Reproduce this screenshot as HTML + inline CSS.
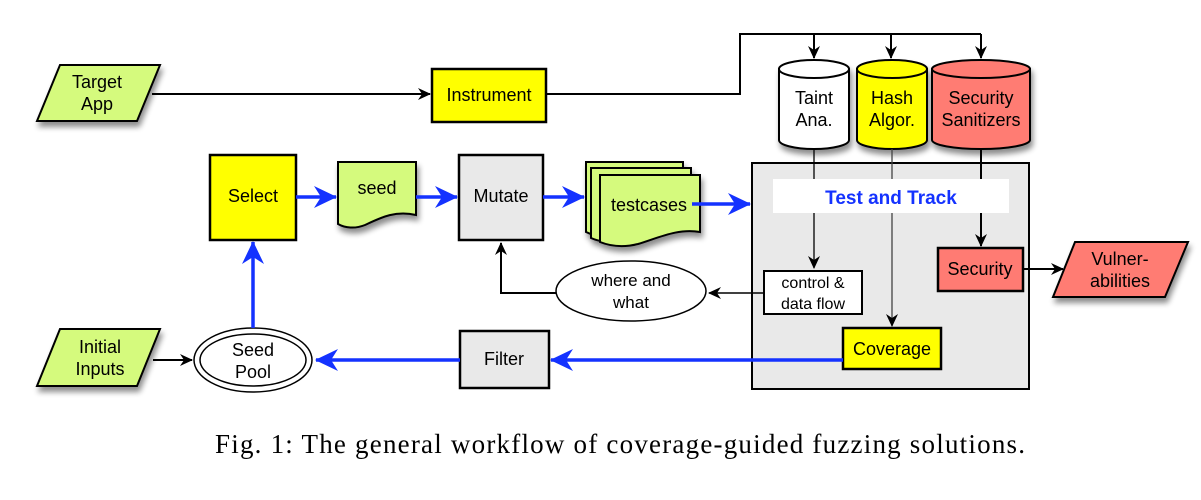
<!DOCTYPE html>
<html><head><meta charset="utf-8"><style>
html,body{margin:0;padding:0;background:#fff;}
svg{display:block;}
text{font-family:"Liberation Sans",Arial,sans-serif;font-size:17px;fill:#000;}
</style></head><body>
<svg width="1201" height="500" viewBox="0 0 1201 500" xmlns="http://www.w3.org/2000/svg">
<defs>
<filter id="sh" x="-20%" y="-20%" width="150%" height="160%">
<feGaussianBlur in="SourceAlpha" stdDeviation="3"/>
<feOffset dx="2" dy="5" result="b"/>
<feComponentTransfer><feFuncA type="linear" slope="0.45"/></feComponentTransfer>
<feMerge><feMergeNode/><feMergeNode in="SourceGraphic"/></feMerge>
</filter>
<marker id="ab" markerWidth="14" markerHeight="12" refX="12" refY="6" orient="auto" markerUnits="userSpaceOnUse">
<path d="M0,0 L13,6 L0,12 L4,6 Z" fill="#000"/></marker>
<marker id="abl" markerWidth="24" markerHeight="22" refX="22" refY="11" orient="auto" markerUnits="userSpaceOnUse">
<path d="M0,0 L23,11 L0,22 L7,11 Z" fill="#1432ff"/></marker>
</defs>

<polygon points="60,65 160,65 137,121 37,121" fill="#d5fa7d" stroke="#000" stroke-width="2" filter="url(#sh)"/>
<text x="97" y="88" text-anchor="middle" style="font-size:18px">Target</text>
<text x="97" y="110" text-anchor="middle" style="font-size:18px">App</text>
<line x1="152" y1="94" x2="430" y2="94" stroke="#000" stroke-width="2" marker-end="url(#ab)"/>

<rect x="432" y="69" width="114" height="53" fill="#ffff00" stroke="#000" stroke-width="2.5"/>
<text x="489" y="101" text-anchor="middle" style="font-size:18px">Instrument</text>
<polyline points="546,94 740,94 740,34 981,34" fill="none" stroke="#000" stroke-width="2"/>
<line x1="814" y1="34" x2="814" y2="58" stroke="#000" stroke-width="2" marker-end="url(#ab)"/>
<line x1="891" y1="34" x2="891" y2="58" stroke="#000" stroke-width="2" marker-end="url(#ab)"/>
<line x1="981" y1="34" x2="981" y2="58" stroke="#000" stroke-width="2" marker-end="url(#ab)"/>

<g filter="url(#sh)" stroke="#000" stroke-width="2">
<path d="M779,69 L779,140 A35,9 0 0 0 849,140 L849,69 Z" fill="#fff"/>
<ellipse cx="814" cy="69" rx="35" ry="9" fill="#fff"/>
<path d="M857,69 L857,140 A35,9 0 0 0 927,140 L927,69 Z" fill="#ffff00"/>
<ellipse cx="892" cy="69" rx="35" ry="9" fill="#ffff00"/>
<path d="M932,69 L932,140 A49,9 0 0 0 1030,140 L1030,69 Z" fill="#ff7b73"/>
<ellipse cx="981" cy="69" rx="49" ry="9" fill="#ff7b73"/>
</g>
<text x="814" y="104" text-anchor="middle" style="font-size:18px">Taint</text>
<text x="814" y="126" text-anchor="middle" style="font-size:18px">Ana.</text>
<text x="892" y="104" text-anchor="middle" style="font-size:18px">Hash</text>
<text x="892" y="126" text-anchor="middle" style="font-size:18px">Algor.</text>
<text x="981" y="104" text-anchor="middle" style="font-size:18px">Security</text>
<text x="981" y="126" text-anchor="middle" style="font-size:18px">Sanitizers</text>

<rect x="752" y="163" width="277" height="226" fill="#e9e9e9" stroke="#000" stroke-width="2"/>
<line x1="814" y1="149" x2="814" y2="268" stroke="#000" stroke-width="1.3" marker-end="url(#ab)"/>
<line x1="892" y1="149" x2="892" y2="326" stroke="#444" stroke-width="1.3" marker-end="url(#ab)"/>
<line x1="981" y1="149" x2="981" y2="246" stroke="#000" stroke-width="2" marker-end="url(#ab)"/>
<rect x="773" y="179" width="236" height="34" fill="#fff"/>
<text x="891" y="204" text-anchor="middle" style="fill:#1432ff;font-weight:bold;font-size:19px">Test and Track</text>

<rect x="764" y="271" width="98" height="43" fill="#fff" stroke="#000" stroke-width="2"/>
<text x="813" y="288" text-anchor="middle" style="font-size:16px">control &amp;</text>
<text x="813" y="309" text-anchor="middle" style="font-size:16px">data flow</text>

<rect x="938" y="248" width="85" height="43" fill="#ff7b73" stroke="#000" stroke-width="2.5"/>
<text x="980" y="275" text-anchor="middle" style="font-size:18px">Security</text>
<line x1="1023" y1="269" x2="1063" y2="269" stroke="#000" stroke-width="2" marker-end="url(#ab)"/>
<polygon points="1075,242 1188,242 1165,297 1053,297" fill="#ff7b73" stroke="#000" stroke-width="2" filter="url(#sh)"/>
<text x="1120" y="265" text-anchor="middle" style="font-size:18px">Vulner-</text>
<text x="1120" y="287" text-anchor="middle" style="font-size:18px">abilities</text>

<rect x="843" y="328" width="98" height="41" fill="#ffff00" stroke="#000" stroke-width="2.5"/>
<text x="892" y="355" text-anchor="middle" style="font-size:18px">Coverage</text>

<line x1="843" y1="360" x2="551" y2="360" stroke="#1432ff" stroke-width="3.5" marker-end="url(#abl)"/>
<rect x="460" y="331" width="89" height="57" fill="#e9e9e9" stroke="#000" stroke-width="2.5"/>
<text x="504" y="365" text-anchor="middle" style="font-size:18px">Filter</text>
<line x1="460" y1="360" x2="316" y2="360" stroke="#1432ff" stroke-width="3.5" marker-end="url(#abl)"/>

<ellipse cx="253" cy="360" rx="59" ry="32" fill="#fff" stroke="#000" stroke-width="1.5"/>
<ellipse cx="253" cy="360" rx="53" ry="26" fill="none" stroke="#000" stroke-width="1.5"/>
<text x="253" y="356" text-anchor="middle" style="font-size:18px">Seed</text>
<text x="253" y="378" text-anchor="middle" style="font-size:18px">Pool</text>

<polygon points="60,329 160,329 137,386 37,386" fill="#d5fa7d" stroke="#000" stroke-width="2" filter="url(#sh)"/>
<text x="100" y="353" text-anchor="middle" style="font-size:18px">Initial</text>
<text x="100" y="375" text-anchor="middle" style="font-size:18px">Inputs</text>
<line x1="153" y1="360" x2="192" y2="360" stroke="#000" stroke-width="2" marker-end="url(#ab)"/>

<line x1="253" y1="328" x2="253" y2="242" stroke="#1432ff" stroke-width="3.5" marker-end="url(#abl)"/>

<rect x="210" y="155" width="86" height="85" fill="#ffff00" stroke="#000" stroke-width="2.5"/>
<text x="253" y="202" text-anchor="middle" style="font-size:18px">Select</text>
<line x1="296" y1="197" x2="336" y2="197" stroke="#1432ff" stroke-width="3.5" marker-end="url(#abl)"/>

<path d="M338,162 L416,162 L416,215 C395,210 380,218 365,225 C355,229 345,228 338,224 Z" fill="#d5fa7d" stroke="#000" stroke-width="2" filter="url(#sh)"/>
<text x="377" y="194" text-anchor="middle" style="font-size:18px">seed</text>
<line x1="416" y1="197" x2="457" y2="197" stroke="#1432ff" stroke-width="3.5" marker-end="url(#abl)"/>

<rect x="459" y="155" width="84" height="85" fill="#e9e9e9" stroke="#000" stroke-width="2.5"/>
<text x="501" y="202" text-anchor="middle" style="font-size:18px">Mutate</text>
<line x1="543" y1="197" x2="584" y2="197" stroke="#1432ff" stroke-width="3.5" marker-end="url(#abl)"/>

<g stroke="#000" stroke-width="2" fill="#d5fa7d" filter="url(#sh)">
<path d="M586,162 L683,162 L683,222 C660,218 640,228 620,234 C605,238 594,236 586,232 Z"/>
<path d="M591,168 L691,168 L691,228 C668,224 648,234 628,240 C613,244 600,242 591,238 Z"/>
<path d="M600,175 L700,175 L700,232 C678,228 658,238 638,244 C622,248 610,246 600,242 Z"/>
</g>
<text x="649" y="211" text-anchor="middle" style="font-size:18px">testcases</text>
<line x1="692" y1="204" x2="750" y2="204" stroke="#1432ff" stroke-width="3.5" marker-end="url(#abl)"/>

<ellipse cx="631" cy="291" rx="75" ry="30" fill="#fff" stroke="#000" stroke-width="1.5"/>
<text x="631" y="286" text-anchor="middle" style="font-size:17px">where and</text>
<text x="631" y="308" text-anchor="middle" style="font-size:17px">what</text>
<line x1="764" y1="293" x2="709" y2="293" stroke="#000" stroke-width="1.5" marker-end="url(#ab)"/>
<polyline points="556,293 501,293 501,243" fill="none" stroke="#000" stroke-width="2" marker-end="url(#ab)"/>

<text x="215" y="453" textLength="810" lengthAdjust="spacing" style="font-family:'Liberation Serif',serif;font-size:27px">Fig. 1: The general workflow of coverage-guided fuzzing solutions.</text>
</svg>
</body></html>
